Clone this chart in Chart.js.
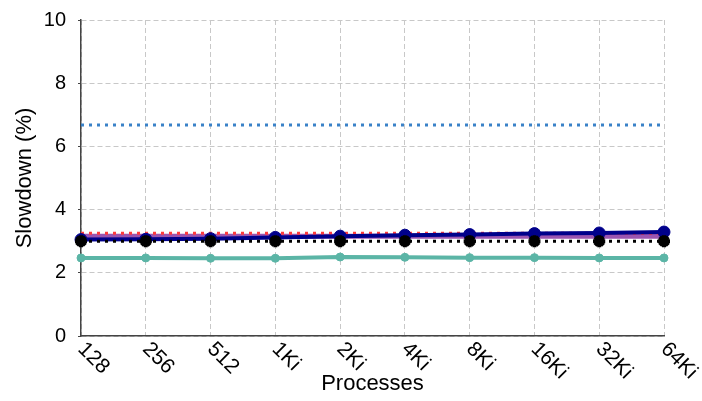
<!DOCTYPE html>
<html>
<head>
<meta charset="utf-8">
<script src="https://cdn.jsdelivr.net/npm/chart.js@4"></script>
<style>
  html, body { margin: 0; padding: 0; background: #fff; }
  #box { width: 702px; height: 401px; }
</style>
</head>
<body>
<div id="box"><canvas id="graphique"></canvas></div>
<script>
// Valeurs
const processus = ['128', '256', '512', '1Ki', '2Ki', '4Ki', '8Ki', '16Ki', '32Ki', '64Ki'];
const serieBleuPointille = [6.68, 6.68, 6.68, 6.68, 6.68, 6.68, 6.68, 6.68, 6.68, 6.68];
const serieRouge = [3.25, 3.25, 3.25, 3.25, 3.25, 3.25, 3.25, 3.25, 3.25, 3.25];
const serieViolet = [3.16, 3.16, 3.16, 3.16, 3.16, 3.16, 3.16, 3.16, 3.16, 3.16];
const serieMarine = [3.05, 3.06, 3.08, 3.12, 3.16, 3.19, 3.21, 3.24, 3.26, 3.29];
const serieNoire = [3.0, 3.0, 3.0, 3.0, 3.0, 3.0, 3.0, 3.0, 3.0, 3.0];
const serieTurquoise = [2.47, 2.47, 2.46, 2.46, 2.5, 2.49, 2.48, 2.48, 2.47, 2.47];
const ticksY = [0, 2, 4, 6, 8, 10];

const POLICE = 'Liberation Sans, Arial, Helvetica, sans-serif';

// Étiquettes de l'axe x tournées de 45° vers le bas, début du texte sous le trait
const etiquettesTournees = {
  id: 'etiquettesTournees',
  afterDraw(chart) {
    const ctx = chart.ctx;
    const x = chart.scales.x;
    ctx.save();
    ctx.font = '21px ' + POLICE;
    ctx.fillStyle = '#000';
    ctx.textAlign = 'left';
    ctx.textBaseline = 'middle';
    processus.forEach((lab, i) => {
      const px = x.getPixelForTick(i);
      ctx.save();
      ctx.translate(px, x.top + 10);
      ctx.rotate(Math.PI / 4);
      ctx.fillText(lab, 0, 0);
      ctx.restore();
    });
    ctx.restore();
  }
};

function serie(data, couleur, largeur, pointilles, point) {
  return {
    data: data,
    borderColor: couleur,
    backgroundColor: couleur,
    borderWidth: largeur,
    borderDash: pointilles ? [3, 5] : [],
    pointStyle: point ? point.style : 'circle',
    pointRadius: point ? point.rayon : 0,
    pointBorderWidth: point ? point.bord : 0,
    pointBorderColor: couleur,
    pointBackgroundColor: couleur,
    tension: 0
  };
}

new Chart(document.getElementById('graphique'), {
  type: 'line',
  data: {
    labels: processus,
    datasets: [
      serie(serieNoire, '#000000', 3, true, { style: 'star', rayon: 6, bord: 4 }),
      serie(serieMarine, '#00008b', 4, false, { style: 'circle', rayon: 6, bord: 1 }),
      serie(serieRouge, '#ff3b3b', 3, true, null),
      serie(serieViolet, '#9b55b0', 5, false, null),
      serie(serieTurquoise, '#5bb5a6', 4, false, { style: 'circle', rayon: 4, bord: 1 }),
      serie(serieBleuPointille, '#3a82c8', 3, true, null)
    ]
  },
  options: {
    responsive: true,
    maintainAspectRatio: false,
    animation: false,
    layout: { padding: { top: 20, right: 38, left: 0, bottom: 4 } },
    plugins: { legend: { display: false }, tooltip: { enabled: false } },
    scales: {
      x: {
        offset: false,
        grid: { color: '#c8c8c8', lineWidth: 1, drawTicks: false },
        border: { display: true, color: '#444', width: 1.5, dash: [5, 3] },
        ticks: { display: false },
        afterFit(scale) { scale.height = 61; scale.paddingLeft = 0; scale.paddingRight = 0; },
        title: {
          display: true,
          text: 'Processes',
          color: '#000',
          font: { family: POLICE, size: 22 },
          padding: { top: 0, bottom: 0 }
        }
      },
      y: {
        min: 0,
        max: 10,
        afterBuildTicks(scale) { scale.ticks = ticksY.map(v => ({ value: v })); },
        grid: { color: '#c8c8c8', lineWidth: 1, tickLength: 3, tickColor: '#444' },
        border: { display: true, color: '#444', width: 1.5, dash: [5, 3] },
        ticks: { color: '#000', font: { family: POLICE, size: 20 }, padding: 12 },
        afterFit(scale) { scale.width = 81; scale.paddingTop = 0; scale.paddingBottom = 0; },
        title: {
          display: true,
          text: 'Slowdown (%)',
          color: '#000',
          font: { family: POLICE, size: 22 },
          padding: { top: 12, bottom: 0 }
        }
      }
    }
  },
  plugins: [etiquettesTournees]
});
</script>
</body>
</html>
